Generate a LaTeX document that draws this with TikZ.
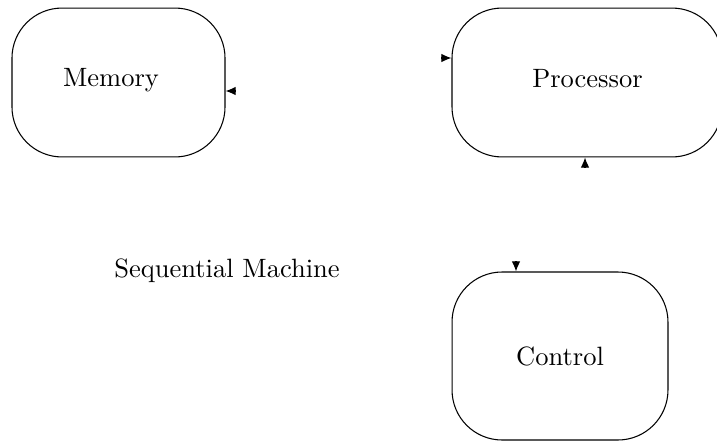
\documentclass[tikz,border=0pt]{standalone}
\usepackage{tikz}
\usetikzlibrary{calc}
\usetikzlibrary{arrows.meta}

\tikzset{
  unit/.style={draw, rounded corners=18.9pt, minimum height=56.2pt, inner sep=0pt},
  tip/.style={-{Latex[length=3.8pt,width=3.2pt]}},
}

\begin{document}
\begin{tikzpicture}[x=0.3774pt, y=-0.3774pt]
  \useasboundingbox (0,0) rectangle (717,441);
  \node [unit, minimum width=80.4pt] (mem) at (118.5,82.5) {};
  \node [unit, minimum width=101.9pt] (proc) at (587,82.5) {};
  \node [unit, minimum width=81.5pt, minimum height=63.4pt] (ctrl) at (560,356) {Control};
  \node (memtxt) at ($(mem)+(-7.5,-2)$) {Memory};
  \node (proctxt) at ($(proc)+(0.5,-4)$) {Processor};
  \node (seq) at (227,271) {Sequential Machine};
  % short arrows, only the heads show
  \draw [tip] ($(mem.east)+(10,8.5)$) -- ($(mem.east)+(0,8.5)$);
  \draw [tip] ($(proc.west)+(-10,-24.5)$) -- ($(proc.west)+(0,-24.5)$);
  \draw [tip] ($(proc.south)+(-2,10)$) -- ($(proc.south)+(-2,0)$);
  \draw [tip] ($(ctrl.north)+(-44,-10)$) -- ($(ctrl.north)+(-44,0)$);
\end{tikzpicture}
\end{document}
